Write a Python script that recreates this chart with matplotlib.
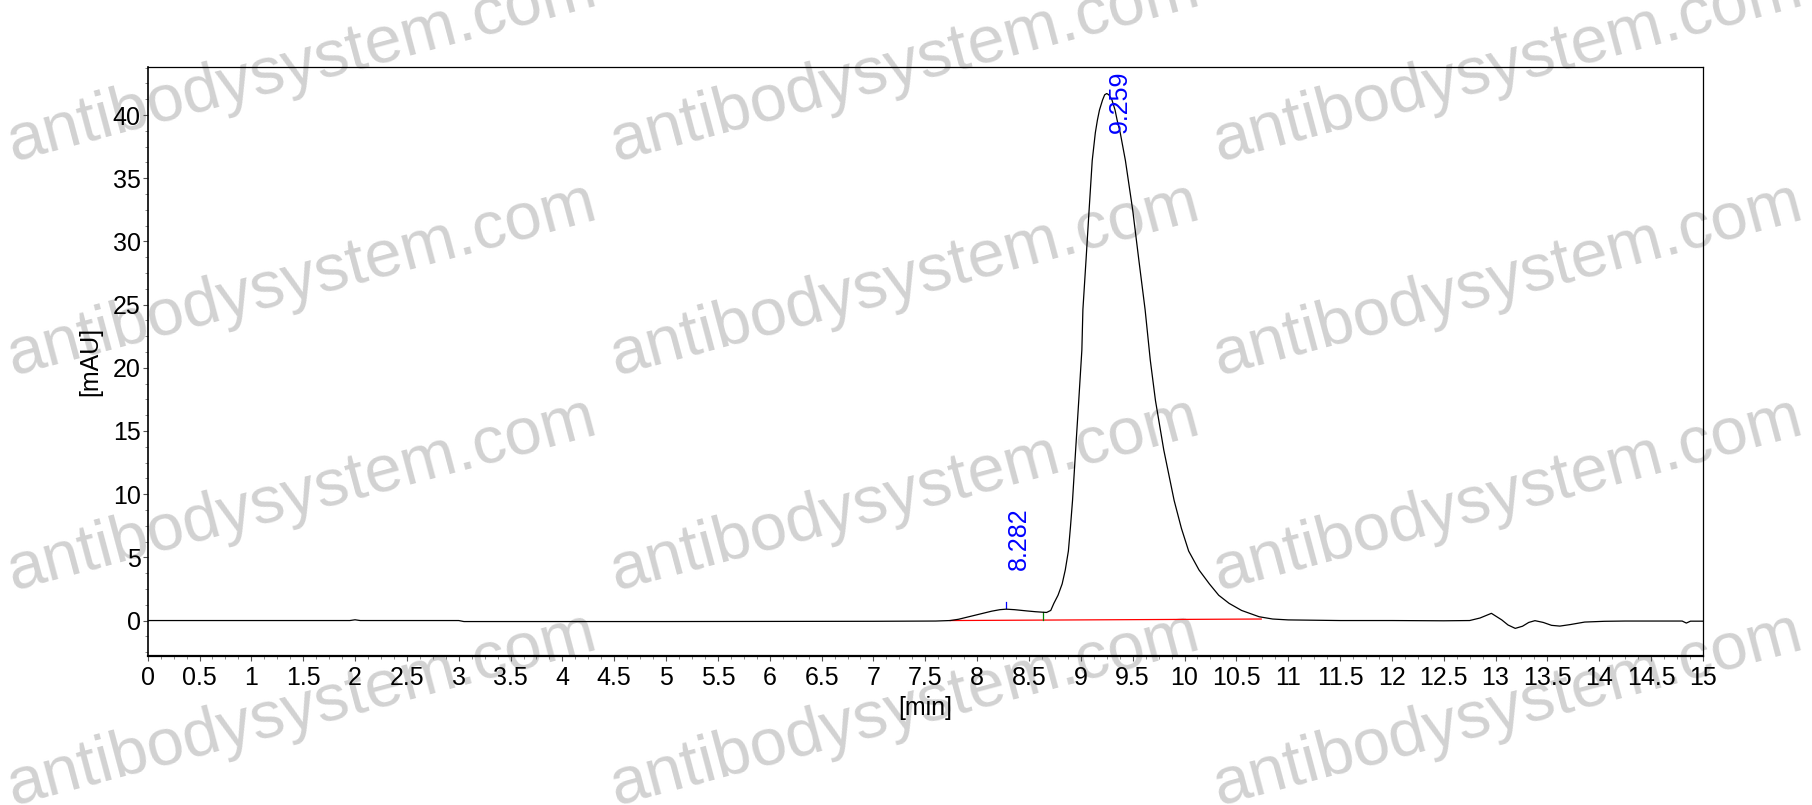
import matplotlib
matplotlib.use("Agg")
import matplotlib.pyplot as plt
from matplotlib.ticker import MultipleLocator, AutoMinorLocator

plt.rcParams['font.family'] = ['Liberation Sans', 'DejaVu Sans']

# chromatogram trace (time in min, signal in mAU)
t_trace = [0.0, 1.95, 2.0, 2.05, 3.0, 3.05, 5.0, 7.0, 7.6, 7.74, 7.82, 7.90, 7.98,
           8.06, 8.14, 8.22, 8.28, 8.36, 8.48, 8.56, 8.63, 8.67, 8.71, 8.74,
           8.78, 8.82, 8.85, 8.88, 8.90, 8.92, 8.95, 8.98, 9.01, 9.02, 9.05, 9.08,
           9.11, 9.14, 9.16, 9.18, 9.21, 9.23, 9.25, 9.27, 9.30, 9.33, 9.35,
           9.38, 9.43, 9.50, 9.56,
           9.62, 9.67, 9.72, 9.80, 9.90, 9.97, 10.04, 10.14, 10.24, 10.33,
           10.43, 10.55, 10.72, 10.85, 11.0, 11.5, 12.0, 12.5, 12.75, 12.85,
           12.96, 13.06, 13.12, 13.19, 13.26, 13.32, 13.38, 13.46, 13.54,
           13.62, 13.72, 13.86, 14.05, 14.25, 14.8, 14.84, 14.88, 15.0]
y_trace = [0.0, 0.0, 0.06, 0.0, 0.0, -0.08, -0.08, -0.06, -0.04, 0.0, 0.1, 0.26, 0.42,
           0.58, 0.74, 0.86, 0.90, 0.86, 0.76, 0.70, 0.66, 0.64, 0.80, 1.36,
           2.0, 2.9, 4.0, 5.5, 7.4, 9.5, 13.5, 17.4, 21.4, 24.6, 28.5, 32.5,
           36.4, 38.6, 39.6, 40.4, 41.2, 41.6, 41.7, 41.6, 41.2, 40.4, 39.6,
           38.6, 36.4, 32.5, 28.5,
           24.6, 20.6, 17.4, 13.5, 9.5, 7.3, 5.5, 4.0, 2.9, 2.0,
           1.36, 0.8, 0.3, 0.12, 0.05, 0.0, 0.0, -0.02, 0.0, 0.2,
           0.57, 0.05, -0.35, -0.62, -0.45, -0.15, -0.01, -0.15, -0.38,
           -0.44, -0.32, -0.12, -0.06, -0.04, -0.04, -0.2, -0.05, -0.05]

# integration baseline
base_t = [7.74, 10.74]
base_y = [0.0, 0.12]

peak_rt = [8.282, 9.259]
peak_label = ['8.282', '9.259']
peak_label_y = [4.0, 38.6]
valley_t = 8.64
valley_y = 0.64

watermark_x = [302, 905, 1508]
watermark_y = [66, 280, 495, 710]

fig = plt.figure(figsize=(18.12, 8.05), dpi=100)
ax = fig.add_axes([0.0815, 0.1855, 0.8583, 0.7316])
ax.set_facecolor('none')

# watermark behind the axes
for wx in watermark_x:
    for wy in watermark_y:
        fig.text(wx / 1812, 1 - wy / 805, 'antibodysystem.com', fontsize=48,
                 color='#d2d2d2', rotation=15, ha='center', va='center',
                 rotation_mode='anchor', zorder=-5)

ax.plot(t_trace, y_trace, color='black', lw=0.9, zorder=3)
ax.plot(base_t, base_y, color='red', lw=0.9, zorder=2)

# peak markers and labels
ax.plot([peak_rt[0], peak_rt[0]], [1.0, 1.45], color='blue', lw=0.9)
ax.plot([valley_t, valley_t], [0.03, valley_y], color='green', lw=0.9)
for rt, lab, ly in zip(peak_rt, peak_label, peak_label_y):
    ax.text(rt, ly, lab, rotation=90, color='blue', fontsize=18,
            ha='left', va='bottom')

ax.set_xlim(0, 15)
ax.set_ylim(-2.78, 43.82)
ax.xaxis.set_major_locator(MultipleLocator(0.5))
ax.xaxis.set_minor_locator(AutoMinorLocator(4))
ax.yaxis.set_major_locator(MultipleLocator(5))
ax.yaxis.set_minor_locator(AutoMinorLocator(4))
ax.set_xticks([i * 0.5 for i in range(31)])
ax.set_xticklabels(['%g' % (i * 0.5) for i in range(31)])
ax.set_yticks([0, 5, 10, 15, 20, 25, 30, 35, 40])

ax.tick_params(which='major', direction='out', length=3.5, width=0.8,
               labelsize=18, color='#555555')
ax.tick_params(which='minor', direction='out', length=2, width=0.6,
               color='#777777')
ax.tick_params(axis='x', pad=4)
ax.tick_params(axis='y', pad=1.5)

ax.spines['bottom'].set_linewidth(1.6)
ax.spines['left'].set_linewidth(1.2)
ax.spines['top'].set_linewidth(0.9)
ax.spines['right'].set_linewidth(0.9)

ax.set_xlabel('[min]', fontsize=18)
ax.set_ylabel('[mAU]', fontsize=18)
ax.xaxis.set_label_coords(0.5, -0.068)
ax.yaxis.set_label_coords(-0.0294, 0.5)

fig.savefig('out.png', dpi=100)
